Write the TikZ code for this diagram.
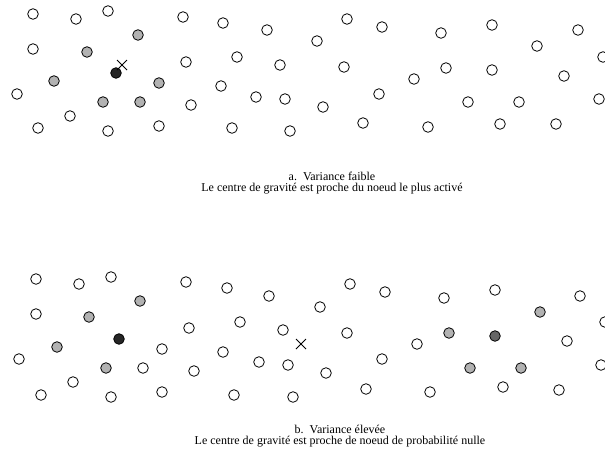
\documentclass[tikz,border=0pt]{standalone}
\usepackage{fontspec}
\setmainfont{Liberation Serif}
\begin{document}
\begin{tikzpicture}[x=1pt,y=-1pt,
  neuron/.style={circle,draw=black,line width=0.8pt,minimum size=10.6pt,inner sep=0pt,fill=white},
  half/.style={neuron,fill=black!30},
  full/.style={neuron,fill=black!85},
  mid/.style={neuron,fill=black!60},
  xmark/.style={line width=0.8pt},
  caption/.style={align=center,font=\fontsize{12}{11.5}\selectfont,inner sep=0pt}]
\useasboundingbox (0,0) rectangle (605,453);
% ---- panel a ----
\foreach \x/\y [count=\i] in {33/14,76/19,108/11,183/17,33/49,186/62,17/94,191/105,70/116,38/128,108/131,159/126,
  223/23,267/30,347/19,382/27,317/41,237/57,280/65,344/67,221/86,256/97,285/99,323/107,379/94,232/128,290/131,363/123,
  441/33,492/25,578/30,537/46,603/57,446/68,492/70,564/76,414/79,468/102,519/102,599/99,428/127,500/124,556/124}
  \node[neuron] (a\i) at (\x,\y) {};
\foreach \x/\y [count=\i] in {138/35,87/52,54/81,159/83,103/102,140/102}
  \node[half] (ah\i) at (\x,\y) {};
\node[full] (awin) at (116,73) {};
\coordinate (ag) at (122,65);
\draw[xmark] ([shift={(-5,-5)}]ag) -- ([shift={(5,5)}]ag) ([shift={(-5,5)}]ag) -- ([shift={(5,-5)}]ag);
\node[caption] (capa) at (332,183) {a.\ \ Variance faible\\Le centre de gravité est proche du noeud le plus activé};
% ---- panel b ----
\foreach \x/\y [count=\i] in {36/279,79/284,111/277,186/282,36/314,189/328,162/349,19/359,143/368,194/371,73/382,41/395,111/397,162/392,
  227/288,269/296,350/284,385/292,320/307,240/322,283/330,347/333,223/352,259/362,288/365,326/373,382/359,234/395,293/397,366/389,
  444/298,495/290,580/296,605/322,567/341,417/344,601/365,430/392,503/387,559/390}
  \node[neuron] (b\i) at (\x,\y) {};
\foreach \x/\y [count=\i] in {140/301,89/317,57/347,106/368,540/312,449/333,470/368,521/368}
  \node[half] (bh\i) at (\x,\y) {};
\node[full] (bwin) at (119,339) {};
\node[mid] (bwin2) at (495,336) {};
\coordinate (bg) at (301,344);
\draw[xmark] ([shift={(-5,-5)}]bg) -- ([shift={(5,5)}]bg) ([shift={(-5,5)}]bg) -- ([shift={(5,-5)}]bg);
\node[caption] (capb) at (340,436) {b.\ \ Variance élevée\\Le centre de gravité est proche de noeud de probabilité nulle};
\end{tikzpicture}
\end{document}
